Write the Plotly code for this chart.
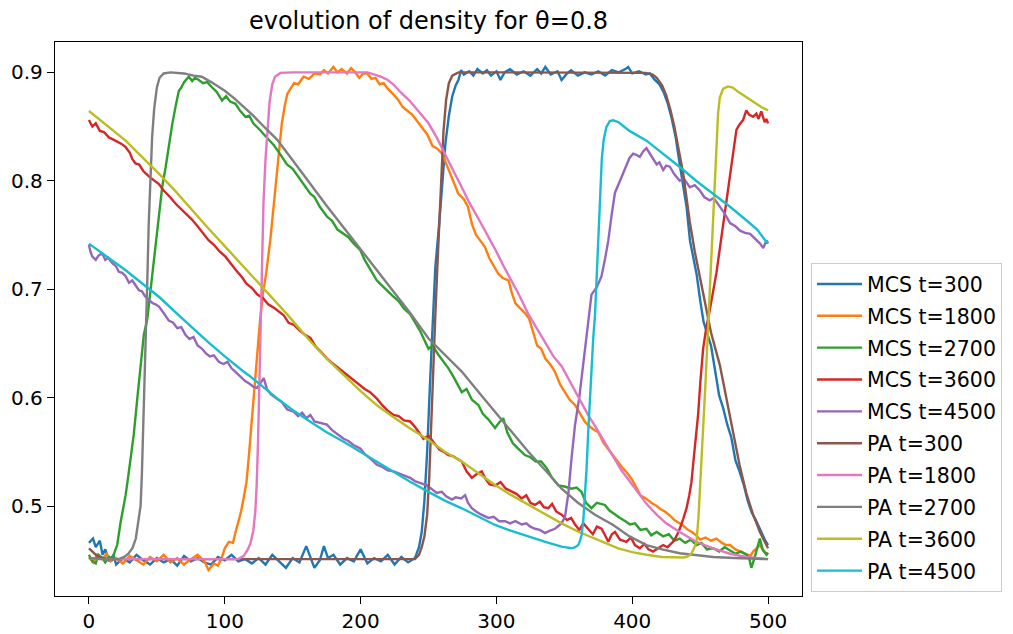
import plotly.graph_objects as go

# ---- density profiles: Monte Carlo simulation (MCS) ----
x_mcs_300 = [0, 3, 5, 8, 10, 12, 15, 18, 20, 25, 30, 35, 40, 45, 50, 55, 60, 65, 70, 75, 80, 85, 90, 95,
             100, 105, 110, 115, 120, 125, 130, 135, 140, 145, 150, 155, 160, 163, 166, 170, 173, 176, 180,
             185, 190, 195, 200, 205, 210, 215, 220, 225, 230, 235, 240, 243, 245, 247, 249, 251, 253, 255,
             257.5, 260, 262.5, 265, 267.5, 270, 272, 274, 276, 280, 283, 286, 290, 293, 296, 300, 303, 306,
             310, 315, 320, 325, 330, 333, 336, 340, 345, 348, 352, 355, 360, 365, 370, 375, 380, 385, 390,
             395, 397, 400, 405, 410, 413, 416, 420, 423, 426, 429, 432, 435, 437, 440, 442.5, 445, 447.5,
             450, 452.5, 455, 458, 461, 464, 467, 470, 473, 476, 479, 482, 485, 488, 491, 494, 496, 498, 500]
y_mcs_300 = [0.466, 0.470, 0.462, 0.468, 0.455, 0.460, 0.449, 0.455, 0.446, 0.452, 0.448, 0.455, 0.450,
             0.446, 0.452, 0.448, 0.451, 0.445, 0.454, 0.449, 0.452, 0.448, 0.446, 0.453, 0.450, 0.455,
             0.449, 0.451, 0.447, 0.452, 0.446, 0.455, 0.449, 0.443, 0.452, 0.448, 0.463, 0.452, 0.443,
             0.450, 0.463, 0.452, 0.455, 0.446, 0.452, 0.449, 0.460, 0.447, 0.452, 0.449, 0.455, 0.446,
             0.453, 0.448, 0.452, 0.462, 0.476, 0.505, 0.550, 0.610, 0.670, 0.720, 0.755, 0.795, 0.835,
             0.860, 0.878, 0.888, 0.893, 0.902, 0.898, 0.901, 0.897, 0.903, 0.899, 0.902, 0.897, 0.901,
             0.893, 0.900, 0.903, 0.898, 0.901, 0.897, 0.903, 0.899, 0.905, 0.898, 0.901, 0.893, 0.899,
             0.902, 0.897, 0.900, 0.898, 0.901, 0.897, 0.902, 0.900, 0.903, 0.905, 0.899, 0.901, 0.898,
             0.899, 0.894, 0.889, 0.882, 0.872, 0.858, 0.840, 0.815, 0.800, 0.776, 0.745, 0.730, 0.713,
             0.690, 0.670, 0.660, 0.648, 0.625, 0.602, 0.590, 0.575, 0.563, 0.542, 0.532, 0.520, 0.505,
             0.494, 0.487, 0.479, 0.473, 0.468, 0.464]

x_mcs_1800 = [0, 3, 6, 10, 13, 16, 20, 25, 30, 35, 40, 45, 50, 55, 60, 65, 70, 75, 80, 85, 88, 92, 95, 98,
              100, 103, 106, 108, 110, 112, 114, 116, 118, 120, 122, 124, 126, 128, 130.5, 133.5, 136,
              138.5, 140, 142, 144, 146, 148, 151, 154, 158, 162, 166, 170, 173, 176, 180, 183, 186, 190,
              193, 196, 199, 202, 205, 208, 211, 214, 217, 220, 224, 228, 231, 234, 238, 241, 245, 249,
              253, 256, 260, 264, 268, 272, 276, 279, 282, 285, 288, 291.5, 295, 298, 301.5, 305, 309,
              311, 314, 317, 321, 324, 327, 330, 333, 336, 340, 343, 347, 350.5, 354, 358, 362, 365, 368,
              371, 375, 379, 382, 386, 390, 393, 396, 400, 403, 406, 410, 414, 418, 421, 424, 428, 431,
              434, 437.5, 441, 444, 447, 450, 454, 458, 462, 466, 469, 472, 476, 480, 484, 487, 489,
              491.5, 494, 497, 500]
y_mcs_1800 = [0.453, 0.448, 0.455, 0.451, 0.456, 0.449, 0.452, 0.447, 0.454, 0.450, 0.446, 0.453, 0.449,
              0.455, 0.448, 0.452, 0.446, 0.451, 0.455, 0.449, 0.441, 0.447, 0.445, 0.453, 0.461, 0.467,
              0.466, 0.476, 0.485, 0.495, 0.508, 0.522, 0.550, 0.580, 0.615, 0.648, 0.672, 0.695, 0.715,
              0.745, 0.778, 0.806, 0.830, 0.853, 0.868, 0.880, 0.884, 0.890, 0.889, 0.896, 0.894, 0.899,
              0.898, 0.902, 0.899, 0.905, 0.900, 0.903, 0.899, 0.904, 0.900, 0.895, 0.899, 0.899, 0.894,
              0.895, 0.889, 0.890, 0.885, 0.880, 0.874, 0.868, 0.865, 0.861, 0.856, 0.850, 0.843, 0.832,
              0.830, 0.825, 0.813, 0.800, 0.788, 0.783, 0.776, 0.760, 0.750, 0.745, 0.739, 0.728, 0.722,
              0.714, 0.710, 0.708, 0.698, 0.687, 0.683, 0.678, 0.673, 0.660, 0.648, 0.645, 0.636, 0.630,
              0.624, 0.612, 0.605, 0.598, 0.593, 0.584, 0.578, 0.574, 0.571, 0.568, 0.558, 0.553, 0.547,
              0.540, 0.535, 0.531, 0.524, 0.517, 0.510, 0.507, 0.503, 0.500, 0.497, 0.495, 0.491, 0.487,
              0.485, 0.482, 0.478, 0.476, 0.473, 0.469, 0.471, 0.468, 0.470, 0.466, 0.464, 0.464, 0.460,
              0.458, 0.456, 0.454, 0.458, 0.461, 0.464, 0.458, 0.455]

x_mcs_2700 = [0, 2.5, 5, 7, 10, 12, 15, 17, 19, 20.8, 23.3, 25, 27, 29, 30.6, 33, 35.5, 38, 40.4, 42.9, 45,
              46.6, 49, 51.5, 54, 56.4, 59, 61.3, 64, 66.2, 68, 70, 73.5, 76, 78, 80.9, 84, 87, 90.7, 94, 98,
              101, 104, 107.9, 111, 115.2, 118, 121, 125, 128.7, 132, 136, 140, 143, 145.8, 150, 154, 158,
              163, 166, 170, 175.2, 179, 183, 187.5, 191, 195, 199.8, 203, 207, 212, 216, 220, 224.3, 228,
              232, 236.5, 240, 244, 250, 253, 257, 260, 264.7, 268, 271, 274.5, 278, 282, 286.8, 290, 294,
              299, 302, 305, 308, 312, 316, 321, 325, 329, 333, 337, 341, 345.6, 350, 355.4, 359, 362.7, 366,
              370, 374, 379.9, 383, 387.3, 391, 395, 398.3, 402, 406, 410.5, 414, 418, 422.8, 427, 431, 435,
              439, 443, 447.3, 451, 455, 459.6, 464, 468, 472, 476, 480, 484, 486, 487.7, 490, 492, 494, 496,
              498.8, 500]
y_mcs_2700 = [0.455, 0.449, 0.447, 0.455, 0.452, 0.448, 0.453, 0.451, 0.458, 0.464, 0.485, 0.495, 0.510,
              0.528, 0.544, 0.566, 0.598, 0.628, 0.658, 0.672, 0.695, 0.715, 0.742, 0.768, 0.795, 0.812,
              0.835, 0.852, 0.870, 0.883, 0.886, 0.891, 0.896, 0.892, 0.895, 0.893, 0.890, 0.891, 0.886,
              0.882, 0.874, 0.878, 0.873, 0.871, 0.865, 0.859, 0.860, 0.853, 0.848, 0.843, 0.838, 0.833,
              0.826, 0.820, 0.815, 0.811, 0.804, 0.797, 0.788, 0.785, 0.776, 0.767, 0.763, 0.755, 0.751,
              0.748, 0.742, 0.736, 0.727, 0.718, 0.708, 0.703, 0.698, 0.693, 0.689, 0.682, 0.677, 0.670,
              0.661, 0.645, 0.648, 0.640, 0.635, 0.627, 0.620, 0.613, 0.605, 0.608, 0.598, 0.593, 0.585,
              0.580, 0.572, 0.577, 0.581, 0.568, 0.558, 0.553, 0.547, 0.545, 0.541, 0.541, 0.535, 0.526,
              0.519, 0.518, 0.516, 0.517, 0.513, 0.503, 0.498, 0.503, 0.501, 0.496, 0.492, 0.489, 0.486,
              0.483, 0.484, 0.478, 0.479, 0.473, 0.476, 0.472, 0.474, 0.468, 0.470, 0.466, 0.469, 0.464,
              0.466, 0.460, 0.461, 0.458, 0.462, 0.459, 0.456, 0.458, 0.455, 0.452, 0.443, 0.452, 0.462,
              0.470, 0.460, 0.455, 0.457]

x_mcs_3600 = [0, 1.5, 2.5, 5, 8, 11, 14.7, 18, 21, 24, 27, 30, 32, 34.3, 37, 40, 44.1, 48, 51.5, 55, 59,
              63.7, 67, 71, 76, 80, 84, 88.2, 92, 96, 100.5, 104, 108, 112.7, 116, 120, 124, 128, 132, 136,
              140, 143.4, 147, 151, 155, 159, 163, 167, 171, 175.2, 179, 183, 187.5, 191, 195, 199.8, 203,
              207, 212, 216, 220, 224.3, 228, 232, 236.5, 240, 243, 246.3, 250, 254, 258, 261, 264.7, 268,
              271, 274.5, 278, 281.9, 285, 289.2, 292, 295, 299, 303, 307, 311.3, 315, 318.6, 322, 325,
              328.4, 332, 335, 338.2, 341, 344, 348, 352, 355, 357.9, 361, 364, 367.6, 371, 374, 377.4, 380,
              382.4, 385, 387.3, 391, 395.8, 399, 402, 405.6, 409, 412, 415.4, 419, 422.8, 426, 430, 432.5,
              435, 437.5, 440, 442, 443.6, 446, 448.5, 450.2, 452.2, 454.6, 457, 462, 467, 472, 476.7, 479,
              481.6, 484, 486, 489, 491.4, 493, 495, 497.5, 498.8, 500]
y_mcs_3600 = [0.856, 0.852, 0.850, 0.853, 0.846, 0.845, 0.840, 0.838, 0.836, 0.834, 0.831, 0.826, 0.820,
              0.816, 0.815, 0.809, 0.804, 0.800, 0.797, 0.791, 0.786, 0.779, 0.775, 0.770, 0.764, 0.758,
              0.752, 0.745, 0.741, 0.735, 0.730, 0.724, 0.718, 0.711, 0.705, 0.701, 0.695, 0.692, 0.686,
              0.683, 0.679, 0.676, 0.669, 0.667, 0.662, 0.658, 0.655, 0.647, 0.642, 0.636, 0.632, 0.628,
              0.624, 0.620, 0.616, 0.612, 0.608, 0.605, 0.599, 0.593, 0.588, 0.584, 0.583, 0.579, 0.578,
              0.573, 0.568, 0.562, 0.565, 0.558, 0.552, 0.550, 0.547, 0.546, 0.544, 0.541, 0.532, 0.526,
              0.529, 0.532, 0.525, 0.520, 0.519, 0.522, 0.516, 0.513, 0.511, 0.507, 0.510, 0.503, 0.501,
              0.504, 0.499, 0.498, 0.502, 0.495, 0.492, 0.487, 0.489, 0.483, 0.478, 0.484, 0.479, 0.474,
              0.481, 0.479, 0.473, 0.467, 0.474, 0.476, 0.469, 0.467, 0.471, 0.464, 0.461, 0.465, 0.460,
              0.458, 0.461, 0.464, 0.462, 0.467, 0.472, 0.479, 0.488, 0.498, 0.510, 0.522, 0.553, 0.584,
              0.615, 0.645, 0.665, 0.680, 0.715, 0.761, 0.807, 0.847, 0.852, 0.856, 0.865, 0.861, 0.859,
              0.862, 0.857, 0.864, 0.854, 0.857, 0.853]

x_mcs_4500 = [0, 1, 2.5, 5, 7, 9.8, 12, 14, 17.2, 20, 22, 24.5, 27, 29.5, 31.9, 34, 36.8, 39, 41, 44.1, 47,
              49, 51.5, 55, 58.8, 62, 65, 68, 71, 74, 77, 80, 83.3, 86, 89, 92, 95.6, 99, 102, 105, 107.9,
              111, 115.2, 118, 121, 123.8, 126, 128.7, 131, 134, 138.5, 142, 146, 150.7, 154, 157, 160, 163,
              166, 170, 175.2, 179, 183, 187.5, 191, 195, 199.8, 203, 207, 212, 216, 220, 224.3, 228, 232,
              236.5, 240, 244, 248.8, 252, 256, 259.8, 263, 267.2, 270, 274, 277, 279, 281.9, 285, 289,
              294.1, 298, 302, 306.4, 310, 314, 318.6, 322, 325, 328.4, 332, 335.8, 339, 343.1, 346, 348,
              350.5, 353, 355.4, 357.9, 361, 363.5, 366, 370, 374, 377.4, 380, 382.4, 385, 387.3, 390, 393.4,
              396, 398, 400.7, 403, 405.6, 408, 410.5, 413, 415.4, 418, 420, 422.8, 425, 427.7, 431, 435,
              438, 442.4, 446, 449.8, 453, 457, 460, 464.5, 468, 472, 476, 479.4, 483, 486.8, 490, 494.1,
              496.5, 498.8, 500]
y_mcs_4500 = [0.741, 0.735, 0.730, 0.727, 0.731, 0.733, 0.727, 0.729, 0.724, 0.721, 0.716, 0.715, 0.712,
              0.706, 0.708, 0.704, 0.699, 0.698, 0.694, 0.690, 0.687, 0.686, 0.684, 0.678, 0.671, 0.669,
              0.664, 0.665, 0.658, 0.654, 0.656, 0.648, 0.645, 0.641, 0.638, 0.639, 0.633, 0.631, 0.633,
              0.627, 0.624, 0.620, 0.615, 0.613, 0.610, 0.609, 0.613, 0.618, 0.608, 0.603, 0.599, 0.596,
              0.589, 0.587, 0.583, 0.586, 0.581, 0.584, 0.578, 0.577, 0.575, 0.570, 0.566, 0.562, 0.560,
              0.556, 0.553, 0.548, 0.544, 0.538, 0.536, 0.533, 0.532, 0.530, 0.528, 0.526, 0.523, 0.521,
              0.519, 0.516, 0.512, 0.513, 0.509, 0.506, 0.508, 0.507, 0.510, 0.503, 0.498, 0.495, 0.492,
              0.489, 0.490, 0.486, 0.486, 0.484, 0.486, 0.483, 0.484, 0.481, 0.479, 0.478, 0.475, 0.477,
              0.479, 0.482, 0.484, 0.490, 0.512, 0.545, 0.575, 0.600, 0.625, 0.655, 0.695, 0.702, 0.712,
              0.728, 0.745, 0.770, 0.789, 0.797, 0.807, 0.815, 0.821, 0.825, 0.824, 0.822, 0.827, 0.830,
              0.825, 0.819, 0.815, 0.817, 0.810, 0.814, 0.813, 0.806, 0.800, 0.802, 0.794, 0.796, 0.791,
              0.785, 0.782, 0.784, 0.776, 0.770, 0.761, 0.758, 0.754, 0.752, 0.751, 0.747, 0.742, 0.738,
              0.745, 0.742]

# ---- density profiles: pair approximation (PA) ----
x_pa_300 = [0, 3, 6, 10, 15, 100, 200, 240, 243, 245, 247, 249, 250.5, 252, 253.5, 255, 256.5, 258, 259.5,
            261, 263, 265, 267.5, 272, 300, 350, 405, 410, 415, 418, 422, 425, 428, 431, 434, 437.5, 442.4,
            446, 450, 454, 458, 464.5, 472, 479, 484, 489, 494, 498.8, 500]
y_pa_300 = [0.461, 0.457, 0.454, 0.452, 0.451, 0.451, 0.451, 0.451, 0.455, 0.462, 0.472, 0.492, 0.525,
            0.580, 0.630, 0.675, 0.720, 0.765, 0.810, 0.845, 0.875, 0.890, 0.897, 0.900, 0.900, 0.900,
            0.900, 0.8995, 0.898, 0.895, 0.888, 0.879, 0.866, 0.850, 0.830, 0.807, 0.762, 0.735, 0.710,
            0.684, 0.660, 0.630, 0.584, 0.538, 0.512, 0.492, 0.476, 0.463, 0.461]

x_pa_1800 = [0, 5, 50, 110, 114, 117, 119, 121, 122.5, 123.5, 124.5, 125.5, 126.5, 127.5, 128.5, 130, 131.5,
             133, 135, 137, 141, 150, 205, 210, 215, 220, 224, 230, 236, 241.4, 247, 250, 256, 262.3, 268,
             274.5, 280, 286.8, 293, 299, 305, 311, 317, 323.5, 330, 336, 342, 348, 355, 362, 368, 372.6,
             380, 386, 392, 398, 404, 410.5, 418, 425, 435, 447, 459.6, 472, 484, 500]
y_pa_1800 = [0.452, 0.451, 0.451, 0.451, 0.454, 0.460, 0.466, 0.477, 0.495, 0.520, 0.560, 0.620, 0.680,
             0.740, 0.780, 0.820, 0.850, 0.873, 0.889, 0.896, 0.8995, 0.900, 0.900, 0.898, 0.896, 0.893,
             0.889, 0.881, 0.874, 0.866, 0.857, 0.853, 0.840, 0.825, 0.810, 0.794, 0.780, 0.765, 0.751,
             0.737, 0.722, 0.708, 0.694, 0.677, 0.663, 0.650, 0.638, 0.629, 0.613, 0.596, 0.583, 0.574,
             0.558, 0.545, 0.533, 0.523, 0.513, 0.502, 0.492, 0.484, 0.476, 0.467, 0.461, 0.456, 0.453,
             0.451]

x_pa_2700 = [0, 10, 22, 26, 29, 32, 34.5, 36.5, 38, 39, 40, 41, 42, 43, 44, 45, 46.5, 48, 50, 52, 55, 60, 70,
             77, 83, 90, 100, 107, 114, 121, 128, 138.5, 150, 163, 175, 187.5, 200, 212, 224, 236.5, 250,
             262, 274.5, 287, 299, 311, 323.5, 336, 348, 360, 372.6, 386, 398, 410.5, 422, 435, 447, 459.6,
             475, 490, 500]
y_pa_2700 = [0.452, 0.451, 0.451, 0.453, 0.456, 0.461, 0.470, 0.485, 0.500, 0.530, 0.570, 0.620, 0.660,
             0.710, 0.760, 0.800, 0.840, 0.866, 0.886, 0.895, 0.899, 0.900, 0.899, 0.897, 0.896, 0.891,
             0.883, 0.876, 0.868, 0.860, 0.851, 0.838, 0.819, 0.797, 0.777, 0.757, 0.737, 0.7175, 0.698,
             0.678, 0.6545, 0.640, 0.624, 0.605, 0.587, 0.568, 0.550, 0.533, 0.516, 0.503, 0.492, 0.4825,
             0.472, 0.464, 0.460, 0.4564, 0.4545, 0.453, 0.452, 0.4513, 0.451]

x_pa_3600 = [0, 13.5, 27, 39, 51.5, 64, 76, 88, 100.5, 110, 117.6, 131, 145.8, 154, 163, 175, 187.5, 200,
             212, 224, 236.5, 250, 262, 274.5, 287, 299, 311, 323.5, 336, 348, 360, 372.6, 381, 389.7, 400,
             410.5, 422, 432, 438, 441, 443.5, 445.5, 447.3, 448.8, 450.3, 451.5, 452.7, 454, 455.1, 456.2,
             457.3, 458.5, 459.6, 460.8, 462, 463.2, 464.5, 467, 470.6, 474, 478, 484, 490, 495, 500]
y_pa_3600 = [0.8644, 0.851, 0.837, 0.822, 0.8066, 0.790, 0.7728, 0.756, 0.739, 0.726, 0.716, 0.697,
             0.677, 0.665, 0.652, 0.636, 0.6207, 0.606, 0.593, 0.582, 0.5716, 0.5608, 0.550, 0.541, 0.530,
             0.5194, 0.510, 0.501, 0.492, 0.484, 0.4765, 0.470, 0.465, 0.461, 0.4575, 0.455, 0.453,
             0.4524, 0.4525, 0.4535, 0.456, 0.461, 0.467, 0.490, 0.522, 0.553, 0.584, 0.615, 0.645, 0.672,
             0.700, 0.730, 0.760, 0.800, 0.835, 0.862, 0.877, 0.885, 0.887, 0.886, 0.882, 0.877, 0.872,
             0.868, 0.865]

x_pa_4500 = [0, 27, 51.5, 61.3, 68.6, 88, 100, 114, 117.6, 138.5, 150, 163, 175, 187.5, 200, 212, 224,
             236.5, 250, 262, 274.5, 287, 299, 311, 323.5, 336, 348, 352, 355.4, 358, 360.3, 361.6, 362.7,
             364, 365.2, 366.4, 367.6, 368.8, 370, 371.3, 372.6, 374, 375.2, 376.4, 377.6, 379, 381, 383.5,
             386, 390, 398, 410.5, 422.8, 435, 447, 459.6, 472, 484, 492, 498.8, 500]
y_pa_4500 = [0.742, 0.7175, 0.693, 0.681, 0.673, 0.651, 0.638, 0.6238, 0.6207, 0.5993, 0.5885, 0.5777,
             0.568, 0.5593, 0.550, 0.541, 0.5315, 0.5224, 0.513, 0.505, 0.4979, 0.490, 0.4825, 0.477,
             0.4717, 0.467, 0.4625, 0.4615, 0.461, 0.462, 0.464, 0.468, 0.4733, 0.487, 0.507, 0.535, 0.5685,
             0.600, 0.630, 0.655, 0.676, 0.715, 0.750, 0.790, 0.820, 0.838, 0.8496, 0.855, 0.8558, 0.854,
             0.846, 0.837, 0.825, 0.8127, 0.800, 0.788, 0.776, 0.7636, 0.755, 0.7436, 0.744]

times = [300, 1800, 2700, 3600, 4500]
mcs_series = [(x_mcs_300, y_mcs_300), (x_mcs_1800, y_mcs_1800), (x_mcs_2700, y_mcs_2700),
              (x_mcs_3600, y_mcs_3600), (x_mcs_4500, y_mcs_4500)]
pa_series = [(x_pa_300, y_pa_300), (x_pa_1800, y_pa_1800), (x_pa_2700, y_pa_2700),
             (x_pa_3600, y_pa_3600), (x_pa_4500, y_pa_4500)]

# matplotlib "tab10" cycle
colors = ["#1f77b4", "#ff7f0e", "#2ca02c", "#d62728", "#9467bd",
          "#8c564b", "#e377c2", "#7f7f7f", "#bcbd22", "#17becf"]

FONT = "DejaVu Sans"

fig = go.Figure()
traces = [("MCS", t, s) for t, s in zip(times, mcs_series)] + [("PA", t, s) for t, s in zip(times, pa_series)]
for i, (kind, t, (xs, ys)) in enumerate(traces):
    fig.add_trace(go.Scatter(
        x=xs, y=ys, mode="lines", name=f"{kind} t={t}",
        line=dict(color=colors[i], width=2.4),
        legendgroup=f"g{i}",
    ))

axis_common = dict(
    showgrid=False, zeroline=False, showline=True, mirror=True,
    linecolor="black", linewidth=1.3, automargin=False,
    ticks="outside", ticklen=7, tickwidth=1.3, tickcolor="black",
    tickfont=dict(family=FONT, size=20, color="black"),
)

fig.update_layout(
    width=1013, height=634,
    margin=dict(l=55, r=210, t=42, b=38),
    paper_bgcolor="white", plot_bgcolor="white",
    title=dict(text="evolution of density for θ=0.8", x=0.5, xref="paper",
               y=1 - 21 / 634, yref="container", xanchor="center", yanchor="middle",
               font=dict(family=FONT, size=24, color="black")),
    xaxis=dict(range=[-25, 525], tickvals=[0, 100, 200, 300, 400, 500],
               ticklabelstandoff=0, **axis_common),
    yaxis=dict(range=[0.417, 0.928], tickvals=[0.5, 0.6, 0.7, 0.8, 0.9],
               ticktext=["0.5", "0.6", "0.7", "0.8", "0.9"], **axis_common),
    legend=dict(
        x=1.0107, y=0.007, xanchor="left", yanchor="bottom",
        font=dict(family=FONT, size=20.5, color="black"),
        bgcolor="rgba(255,255,255,0.8)", bordercolor="#cccccc", borderwidth=1,
        tracegroupgap=2.2, traceorder="grouped", itemwidth=45,
    ),
    showlegend=True,
)

fig.write_html("out.html")
